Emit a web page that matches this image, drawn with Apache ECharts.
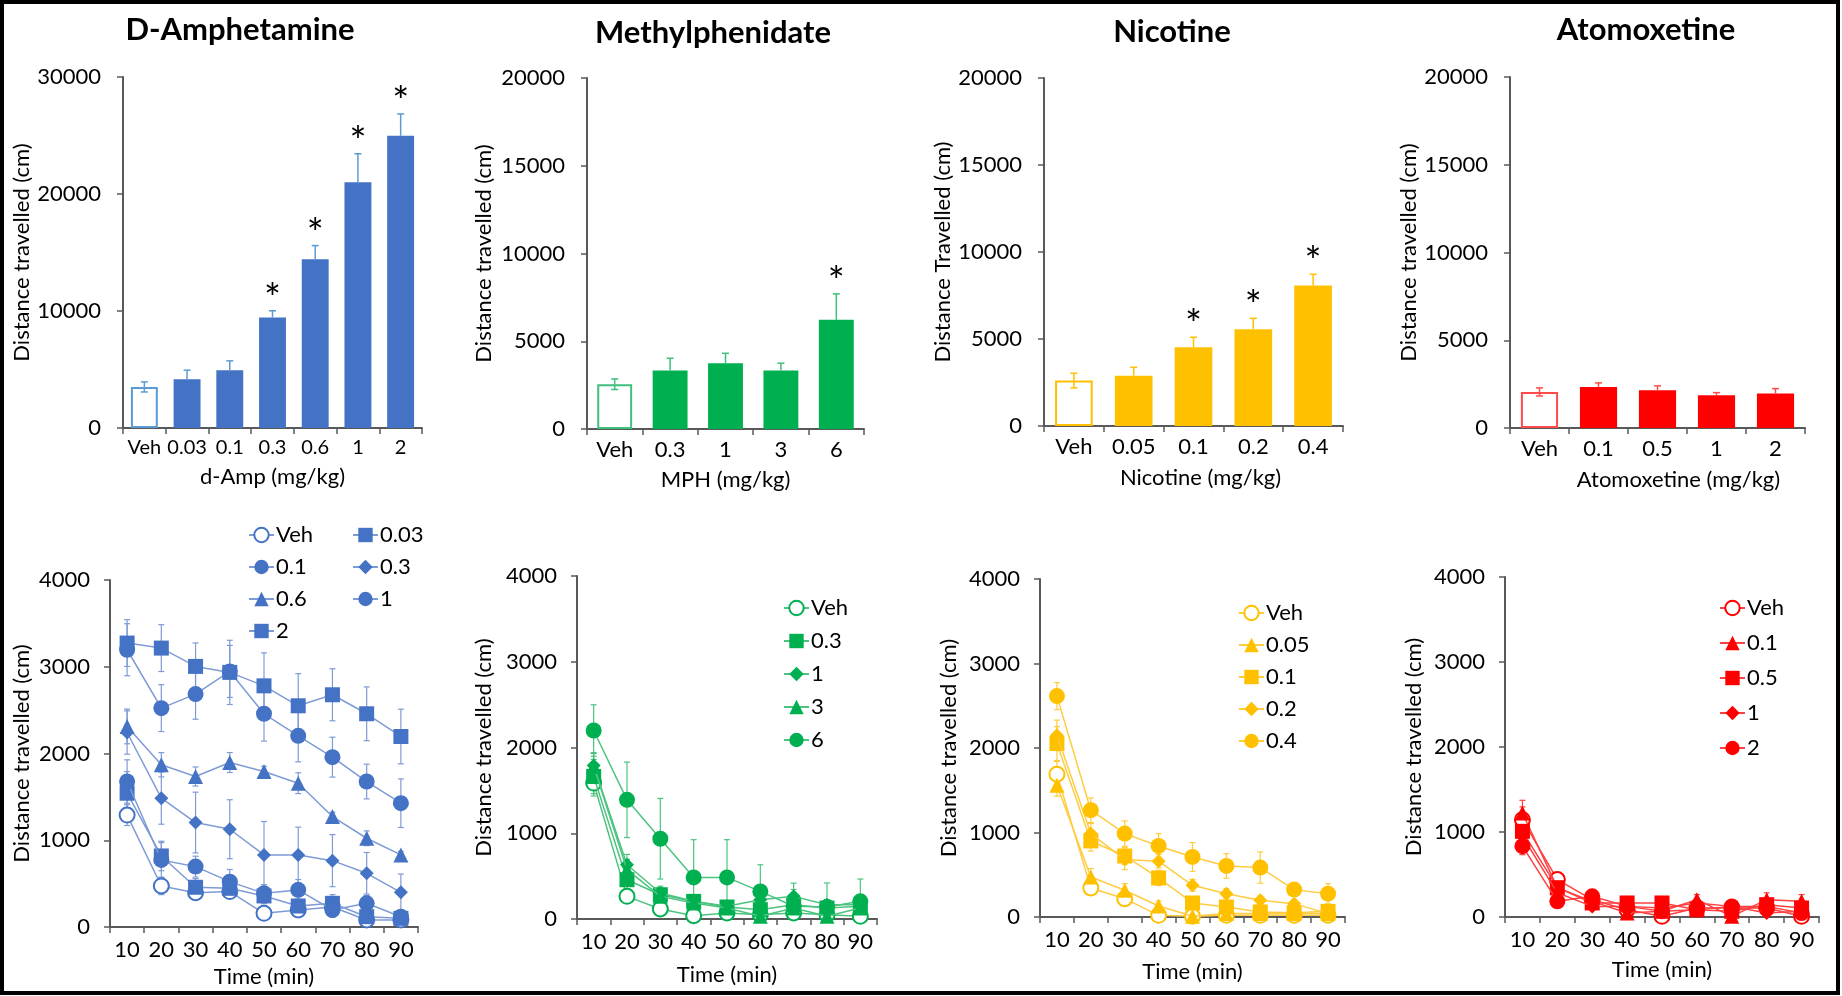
<!DOCTYPE html>
<html>
<head>
<meta charset="utf-8">
<script src="https://cdn.jsdelivr.net/npm/echarts@6/dist/echarts.min.js"></script>
<style>
html, body { margin: 0; padding: 0; background: #fff; }
#main { width: 1842px; height: 996px; }
</style>
</head>
<body>
<div id="main"></div>
<script>
// ---- total distance (bar panels) ----
var ampDoses = ['Veh', '0.03', '0.1', '0.3', '0.6', '1', '2'];
var ampTotal = [3510, 4170, 4940, 9450, 14420, 21010, 24980];
var ampTotalErr = [430, 770, 800, 570, 1170, 2430, 1860];
var ampSig = [0, 0, 0, 1, 1, 1, 1];

var mphDoses = ['Veh', '0.3', '1', '3', '6'];
var mphTotal = [2550, 3330, 3745, 3330, 6220];
var mphTotalErr = [300, 700, 570, 420, 1480];
var mphSig = [0, 0, 0, 0, 1];

var nicDoses = ['Veh', '0.05', '0.1', '0.2', '0.4'];
var nicTotal = [2610, 2895, 4525, 5560, 8070];
var nicTotalErr = [420, 480, 575, 630, 650];
var nicSig = [0, 0, 1, 1, 1];

var atoDoses = ['Veh', '0.1', '0.5', '1', '2'];
var atoTotal = [2055, 2340, 2150, 1865, 1960];
var atoTotalErr = [230, 230, 250, 150, 285];
var atoSig = [0, 0, 0, 0, 0];

// ---- time course (line panels) ----
var timeBins = ['10', '20', '30', '40', '50', '60', '70', '80', '90'];

var ampVeh = [1290, 473, 396, 408, 158, 196, 230, 81, 81];
var amp003 = [1542, 819, 458, 446, 358, 242, 273, 119, 100];
var amp01 = [1677, 773, 696, 523, 388, 427, 196, 273, 119];
var amp03 = [2242, 1485, 1204, 1127, 831, 831, 765, 619, 400];
var amp06 = [2312, 1870, 1735, 1896, 1792, 1658, 1273, 1023, 831];
var amp1 = [3196, 2523, 2685, 2946, 2458, 2204, 1958, 1677, 1427];
var amp2 = [3273, 3215, 3004, 2935, 2780, 2550, 2677, 2458, 2196];
var ampVehErr = [120, 100, 80, 80, 50, 60, 60, 40, 40];
var amp003Err = [250, 170, 100, 100, 90, 80, 100, 60, 50];
var amp01Err = [250, 200, 120, 140, 100, 120, 80, 90, 60];
var amp03Err = [250, 300, 350, 340, 385, 320, 300, 240, 210];
var amp06Err = [200, 140, 110, 115, 60, 120, 50, 85, 40];
var amp1Err = [300, 270, 290, 300, 315, 300, 230, 200, 280];
var amp2Err = [270, 270, 270, 370, 380, 370, 300, 310, 315];

var mphVeh = [1585, 264, 117, 39, 70, 50, 70, 50, 31];
var mph03 = [1662, 458, 283, 206, 140, 109, 167, 128, 148];
var mph1 = [1790, 633, 303, 206, 148, 225, 264, 167, 167];
var mph3 = [1780, 575, 264, 186, 128, 31, 128, 31, 128];
var mph6 = [2198, 1390, 936, 485, 485, 322, 148, 140, 206];
var mphVehErr = [150, 60, 40, 30, 30, 30, 30, 30, 30];
var mph03Err = [200, 120, 80, 60, 50, 60, 60, 50, 60];
var mph1Err = [150, 120, 80, 60, 50, 80, 80, 60, 60];
var mph3Err = [150, 120, 80, 60, 50, 30, 60, 30, 60];
var mph6Err = [300, 440, 470, 440, 440, 310, 270, 280, 260];

var nicVeh = [1690, 343, 217, 20, 8, 20, 20, 20, 20];
var nic005 = [1560, 474, 316, 130, 8, 40, 40, 40, 40];
var nic01 = [2053, 900, 722, 462, 166, 118, 60, 51, 67];
var nic02 = [2150, 987, 680, 660, 375, 276, 197, 158, 40];
var nic04 = [2614, 1264, 987, 841, 711, 604, 585, 324, 276];
var nicVehErr = [150, 60, 60, 30, 20, 20, 20, 20, 20];
var nic005Err = [130, 100, 80, 60, 20, 30, 30, 30, 30];
var nic01Err = [200, 120, 100, 90, 60, 50, 40, 40, 30];
var nic02Err = [180, 120, 120, 80, 70, 60, 50, 50, 30];
var nic04Err = [160, 145, 150, 145, 170, 145, 185, 70, 120];

var atoVeh = [1145, 440, 204, 86, 8, 106, 106, 106, 8];
var ato01 = [1223, 345, 184, 47, 67, 204, 8, 204, 184];
var ato05 = [1008, 345, 165, 165, 165, 86, 67, 145, 106];
var ato1 = [950, 285, 125, 125, 106, 165, 125, 47, 67];
var ato2 = [833, 184, 243, 125, 67, 86, 125, 125, 47];
var atoVehErr = [150, 60, 40, 30, 30, 40, 30, 30, 30];
var ato01Err = [150, 60, 40, 30, 30, 60, 30, 80, 80];
var ato05Err = [120, 60, 40, 40, 40, 40, 30, 50, 40];
var ato1Err = [100, 60, 40, 30, 30, 40, 30, 30, 40];
var ato2Err = [100, 50, 50, 30, 30, 30, 30, 40, 30];

var FONT = 'Lato';
var AXIS = '#595959';
var TICK = 22; // tick label size

// layout of the eight panels
var barPanels = [
	{ title: 'D-Amphetamine', tx: 240, ty: 14, grid: { left: 123, top: 77, width: 299, height: 351 }, max: 30000, interval: 10000,
		cats: ampDoses, vals: ampTotal, err: ampTotalErr, sig: ampSig, xName: 'd-Amp (mg/kg)', xGap: 38, xPad: 0, xSize: 20,
		yName: 'Distance travelled (cm)', yGap: 90, color: '#4472C4', light: '#5B9BD5' },
	{ title: 'Methylphenidate', tx: 713, ty: 17, grid: { left: 587, top: 78, width: 277, height: 351 }, max: 20000, interval: 5000,
		cats: mphDoses, vals: mphTotal, err: mphTotalErr, sig: mphSig, xName: 'MPH (mg/kg)', xGap: 40, xPad: 0, xSize: TICK,
		yName: 'Distance travelled (cm)', yGap: 92, color: '#00B050', light: '#3DC07A' },
	{ title: 'Nicotine', tx: 1172, ty: 16, grid: { left: 1044, top: 78, width: 299, height: 348 }, max: 20000, interval: 5000,
		cats: nicDoses, vals: nicTotal, err: nicTotalErr, sig: nicSig, xName: 'Nicotine (mg/kg)', xGap: 41, xPad: 14, xSize: TICK,
		yName: 'Distance Travelled (cm)', yGap: 84, color: '#FFC000', light: '#FFC000' },
	{ title: 'Atomoxetine', tx: 1646, ty: 14, grid: { left: 1510, top: 77, width: 295, height: 351 }, max: 20000, interval: 5000,
		cats: atoDoses, vals: atoTotal, err: atoTotalErr, sig: atoSig, xName: 'Atomoxetine (mg/kg)', xGap: 41, xPad: 42, xSize: TICK,
		yName: 'Distance travelled (cm)', yGap: 85, color: '#FF0000', light: '#FF4B4B' }
];

var linePanels = [
	{ key: 'a', grid: { left: 110, top: 580, width: 308, height: 347 }, yGap: 77, xGap: 39, color: '#4472C4', line: '#7E9BD6',
		names: ['Veh', '0.03', '0.1', '0.3', '0.6', '1', '2'],
		data: [ampVeh, amp003, amp01, amp03, amp06, amp1, amp2],
		err: [ampVehErr, amp003Err, amp01Err, amp03Err, amp06Err, amp1Err, amp2Err],
		symbols: ['emptyCircle', 'rect', 'circle', 'diamond', 'triangle', 'circle', 'rect'],
		legends: [{ items: [0, 2, 4, 6], left: 248, top: 524, gap: 10 }, { items: [1, 3, 5], left: 352, top: 524, gap: 10 }] },
	{ key: 'm', grid: { left: 577, top: 576, width: 300, height: 343 }, yGap: 82, xGap: 45, color: '#00B050', line: '#4CC47F',
		names: ['Veh', '0.3', '1', '3', '6'],
		data: [mphVeh, mph03, mph1, mph3, mph6],
		err: [mphVehErr, mph03Err, mph1Err, mph3Err, mph6Err],
		symbols: ['emptyCircle', 'rect', 'diamond', 'triangle', 'circle'],
		legends: [{ items: [0, 1, 2, 3, 4], left: 783, top: 597, gap: 11 }] },
	{ key: 'n', grid: { left: 1040, top: 579, width: 305, height: 338 }, yGap: 80, xGap: 44, color: '#FFC000', line: '#FFCC40',
		names: ['Veh', '0.05', '0.1', '0.2', '0.4'],
		data: [nicVeh, nic005, nic01, nic02, nic04],
		err: [nicVehErr, nic005Err, nic01Err, nic02Err, nic04Err],
		symbols: ['emptyCircle', 'triangle', 'rect', 'diamond', 'circle'],
		legends: [{ items: [0, 1, 2, 3, 4], left: 1238, top: 602, gap: 10 }] },
	{ key: 't', grid: { left: 1505, top: 577, width: 314, height: 340 }, yGap: 80, xGap: 42, color: '#FF0000', line: '#FF4040',
		names: ['Veh', '0.1', '0.5', '1', '2'],
		data: [atoVeh, ato01, ato05, ato1, ato2],
		err: [atoVehErr, ato01Err, ato05Err, ato1Err, ato2Err],
		symbols: ['emptyCircle', 'triangle', 'rect', 'diamond', 'circle'],
		legends: [{ items: [0, 1, 2, 3, 4], left: 1719, top: 597, gap: 13 }] }
];

var symbolSizes = { emptyCircle: 15, circle: 16, rect: 15, diamond: 14, triangle: 15 };

function plainNum(v) { return String(v); }

function axisCommon() {
	return {
		axisLine: { show: true, onZero: false, lineStyle: { color: AXIS, width: 2 } },
		axisTick: { show: true, inside: false, length: 6, lineStyle: { color: AXIS, width: 1.5 } },
		splitLine: { show: false },
		nameLocation: 'middle',
		nameTextStyle: { color: '#000', fontSize: 22, fontFamily: FONT }
	};
}

// error bar with optional lower whisker and significance star
function barErrItem(params, api) {
	var i = api.value(0), v = api.value(1), e = api.value(2), s = api.value(3);
	var p0 = api.coord([i, v]);
	var p1 = api.coord([i, v + e]);
	var st = { stroke: api.visual('color'), lineWidth: 1.5 };
	var ch = [
		{ type: 'line', shape: { x1: p0[0], y1: p0[1], x2: p1[0], y2: p1[1] }, style: st },
		{ type: 'line', shape: { x1: p1[0] - 3.5, y1: p1[1], x2: p1[0] + 3.5, y2: p1[1] }, style: st }
	];
	if (i === 0) {
		var p2 = api.coord([i, v - e]);
		ch.push({ type: 'line', shape: { x1: p0[0], y1: p0[1], x2: p2[0], y2: p2[1] }, style: st });
		ch.push({ type: 'line', shape: { x1: p2[0] - 3.5, y1: p2[1], x2: p2[0] + 3.5, y2: p2[1] }, style: st });
	}
	if (s) {
		ch.push({ type: 'text', x: p1[0], y: p1[1] - 11,
			style: { text: '*', fill: '#000', font: '40px ' + FONT, align: 'center', verticalAlign: 'middle',
				textAlign: 'center', textVerticalAlign: 'middle' } });
	}
	return { type: 'group', children: ch };
}

function lineErrItem(params, api) {
	var i = api.value(0), v = api.value(1), e = api.value(2);
	var lo = Math.max(0, v - e);
	var p1 = api.coord([i, v + e]);
	var p2 = api.coord([i, lo]);
	var st = { stroke: api.visual('color'), lineWidth: 1.2 };
	var ch = [
		{ type: 'line', shape: { x1: p1[0], y1: p1[1], x2: p2[0], y2: p2[1] }, style: st },
		{ type: 'line', shape: { x1: p1[0] - 3, y1: p1[1], x2: p1[0] + 3, y2: p1[1] }, style: st }
	];
	if (lo > 0) ch.push({ type: 'line', shape: { x1: p2[0] - 3, y1: p2[1], x2: p2[0] + 3, y2: p2[1] }, style: st });
	return { type: 'group', children: ch };
}

var option = {
	backgroundColor: '#fff',
	animation: false,
	textStyle: { fontFamily: FONT },
	title: [],
	grid: [],
	xAxis: [],
	yAxis: [],
	legend: [],
	series: [],
	graphic: [{
		type: 'rect', shape: { x: 2, y: 2, width: 1836, height: 991 },
		style: { fill: 'none', stroke: '#000', lineWidth: 4 }, z: 100
	}]
};

barPanels.forEach(function(p, k) {
	option.title.push({
		text: p.title, left: p.tx, top: p.ty, textAlign: 'center', padding: 0,
		textStyle: { fontSize: 31, fontWeight: 'bold', color: '#000', fontFamily: FONT }
	});
	option.grid.push({ left: p.grid.left, top: p.grid.top, width: p.grid.width, height: p.grid.height,
		containLabel: false, outerBoundsMode: 'none' });
	var xa = axisCommon();
	xa.type = 'category';
	xa.gridIndex = k;
	xa.data = p.cats;
	xa.name = p.xName;
	xa.nameGap = p.xGap;
	xa.nameTextStyle.padding = [0, 0, 0, p.xPad];
	xa.axisLabel = { color: '#000', fontSize: p.xSize, fontFamily: FONT, margin: 10, interval: 0 };
	option.xAxis.push(xa);
	var ya = axisCommon();
	ya.type = 'value';
	ya.gridIndex = k;
	ya.min = 0;
	ya.max = p.max;
	ya.interval = p.interval;
	ya.name = p.yName;
	ya.nameGap = p.yGap;
	ya.axisLabel = { color: '#000', fontSize: TICK, fontFamily: FONT, margin: 22, formatter: plainNum };
	option.yAxis.push(ya);

	option.series.push({
		type: 'bar', xAxisIndex: k, yAxisIndex: k, barWidth: '63%', z: 2,
		data: p.vals.map(function(v, i) {
			if (i === 0) return { value: v, itemStyle: { color: '#fff', borderColor: p.light, borderWidth: 2 } };
			return { value: v, itemStyle: { color: p.color } };
		})
	});
	option.series.push({
		type: 'custom', xAxisIndex: k, yAxisIndex: k, z: 3,
		itemStyle: { color: p.light },
		renderItem: barErrItem,
		data: p.vals.map(function(v, i) { return [i, v, p.err[i], p.sig[i]]; })
	});
});

linePanels.forEach(function(p, j) {
	var k = 4 + j;
	option.grid.push({ left: p.grid.left, top: p.grid.top, width: p.grid.width, height: p.grid.height,
		containLabel: false, outerBoundsMode: 'none' });
	var xa = axisCommon();
	xa.type = 'category';
	xa.gridIndex = k;
	xa.data = timeBins;
	xa.name = 'Time (min)';
	xa.nameGap = p.xGap;
	xa.axisLabel = { color: '#000', fontSize: TICK, fontFamily: FONT, margin: 12, interval: 0 };
	option.xAxis.push(xa);
	var ya = axisCommon();
	ya.type = 'value';
	ya.gridIndex = k;
	ya.min = 0;
	ya.max = 4000;
	ya.interval = 1000;
	ya.name = 'Distance travelled (cm)';
	ya.nameGap = p.yGap;
	ya.axisLabel = { color: '#000', fontSize: TICK, fontFamily: FONT, margin: 20, formatter: plainNum };
	option.yAxis.push(ya);

	p.names.forEach(function(nm, s) {
		option.series.push({
			type: 'custom', xAxisIndex: k, yAxisIndex: k, z: 1, silent: true,
			itemStyle: { color: p.line },
			renderItem: lineErrItem,
			data: p.data[s].map(function(v, i) { return [i, v, p.err[s][i]]; })
		});
	});
	p.names.forEach(function(nm, s) {
		var sym = p.symbols[s];
		option.series.push({
			name: p.key + '|' + nm,
			type: 'line', xAxisIndex: k, yAxisIndex: k, z: 2 + s * 0.01,
			symbol: sym, symbolSize: symbolSizes[sym], showAllSymbol: true,
			lineStyle: { color: p.line, width: 1.5 },
			itemStyle: { color: p.color, borderColor: p.color, borderWidth: sym === 'emptyCircle' ? 1.5 : 0 },
			emphasis: { disabled: true },
			data: p.data[s]
		});
	});
	p.legends.forEach(function(lg) {
		option.legend.push({
			data: lg.items.map(function(i) { return p.key + '|' + p.names[i]; }),
			orient: 'vertical', left: lg.left, top: lg.top, padding: 0, itemGap: lg.gap,
			itemWidth: 25, itemHeight: 18, selectedMode: false,
			formatter: function(n) { return n.split('|')[1]; },
			textStyle: { color: '#000', fontSize: 22, fontFamily: FONT, padding: [0, 0, 0, -3] }
		});
	});
});

var chart = echarts.init(document.getElementById('main'));
chart.setOption(option);
</script>
</body>
</html>
